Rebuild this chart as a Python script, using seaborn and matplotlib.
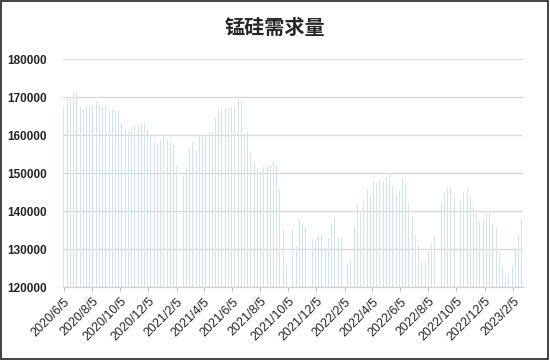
import matplotlib
matplotlib.use("Agg")
import matplotlib.pyplot as plt
import matplotlib.dates as mdates
import matplotlib.patches as patches
from matplotlib.ticker import FuncFormatter, MultipleLocator
import seaborn as sns
import pandas as pd

# weekly data, first week 2020-06-05 (None = week without data)
start_date = "2020-06-05"
demand = [
    167800, 170000, 170000, 171500, 171500, 167400, 166700, 167400, 167800, 168000,
    169100, 168000, 167400, 168000, 166700, 166900, 166800, 166800, 163200, 161800,
    161000, 162300, 162500, 163000, 163200, 163200, 161800, 160100, 158300, 157500,
    158500, 159900, 158800, 158300, 157500, 151900, None, 149300, 151300, 156500,
    158200, 156100, 159800, 159600, 160500, 160700, 161200, 164500, 167100, 166900,
    166900, 167100, 167500, 167500, 169700, 169000, 160100, 161000, 155700, 153100,
    151300, 150400, 151700, 152000, 152200, 153200, 152200, 146000, 135100, 125900,
    None, 135100, 130900, 137700, 137000, 136000, 132900, 132600, 132500, 133600,
    134000, 130300, 133100, 137000, 138400, 133300, 133300, None, 126100, 127200,
    136100, 141700, 140100, 142700, 145900, 144300, 147800, 147500, 148200, 148000,
    149100, 150000, 146300, 144500, 145400, 148800, 147500, 142500, 138800, 133700,
    130900, 126400, 126800, 129600, 131600, 133800, 134400, 142100, 145200, 146300,
    146500, 143800, None, 142900, 145200, 146200, 143400, 141200, 139200, 137500,
    138000, 140100, 140100, 136600, 135500, 128900, 125300, 123100, 123500, 125700,
    130300, 134100, 138200,
]
title = "锰硅需求量"

weeks = pd.date_range(start_date, periods=len(demand), freq="7D")
df = pd.DataFrame({"date": weeks, "value": demand}).dropna()
df["x"] = mdates.date2num(df["date"])

sns.set_style("white")
plt.rcParams["font.family"] = ["Liberation Sans", "Noto Sans CJK SC", "DejaVu Sans"]

fig = plt.figure(figsize=(5.5, 3.6), dpi=100)
ax = fig.add_axes([0.1145, 0.202, 0.836, 0.633])

sns.barplot(data=df, x="x", y="value", native_scale=True, width=0.3,
            color="#d3e4ed", saturation=1, linewidth=0, errorbar=None, ax=ax)

ax.set_ylim(120000, 180000)
ax.yaxis.set_major_locator(MultipleLocator(10000))
ax.set_xlim(mdates.date2num(pd.Timestamp("2020-06-03")),
            mdates.date2num(pd.Timestamp("2023-02-26")))
ax.xaxis.set_major_locator(mdates.MonthLocator(bymonth=[2, 4, 6, 8, 10, 12], bymonthday=5))
ax.xaxis.set_major_formatter(FuncFormatter(
    lambda v, p: (lambda d: f"{d.year}/{d.month}/{d.day}")(mdates.num2date(v))))

ax.grid(axis="y", color="#d9d9d9", linewidth=1)
ax.set_axisbelow(True)
for s in ["top", "right", "left"]:
    ax.spines[s].set_visible(False)
ax.spines["bottom"].set_color("#d0d0d0")
ax.tick_params(axis="x", bottom=True, length=3, color="#bfbfbf", labelsize=9,
               labelrotation=45, pad=3)
ax.tick_params(axis="y", left=False, labelsize=8.5, pad=8)
for lab in ax.get_xticklabels():
    lab.set_ha("right")
    lab.set_rotation_mode("anchor")
for lab in ax.get_yticklabels():
    lab.set_fontweight("bold")
ax.set_xlabel("")
ax.set_ylabel("")

fig.text(0.5, 0.922, title, ha="center", va="center", fontsize=14.5, fontweight="bold")
fig.patches.append(patches.Rectangle((0.002, 0.003), 0.995, 0.994, transform=fig.transFigure,
                                     fill=False, edgecolor="#222222", linewidth=1.2))

fig.savefig("out.png", dpi=100)
